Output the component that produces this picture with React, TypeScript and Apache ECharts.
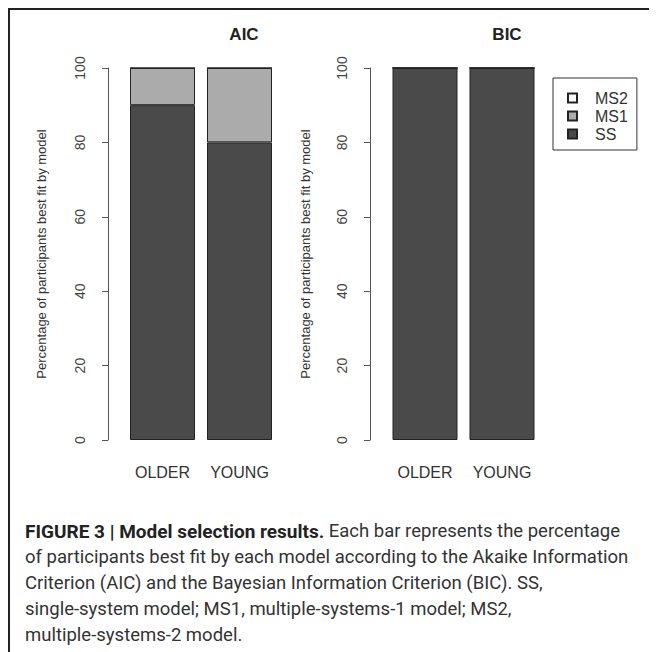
import React, { useEffect, useRef } from "react";
import * as echarts from "echarts";

const categories = ["OLDER", "YOUNG"];
const aicSS = [90, 80];
const aicMS1 = [10, 20];
const aicMS2 = [0, 0];
const bicSS = [100, 100];
const bicMS1 = [0, 0];
const bicMS2 = [0, 0];
const yTicks = { min: 0, max: 100, interval: 20 };
const yTitle = "Percentage of participants best fit by model";
const captionLines = [
  "{b|FIGURE 3 | Model selection results.} Each bar represents the percentage",
  "of participants best fit by each model according to the Akaike Information",
  "Criterion (AIC) and the Bayesian Information Criterion (BIC). SS,",
  "single-system model; MS1, multiple-systems-1 model; MS2,",
  "multiple-systems-2 model.",
];

const colors = { SS: "#4a4a4a", MS1: "#ababab", MS2: "#ffffff" };
const FONT = "Liberation Sans, Arial, sans-serif";
const CAP_FONT = "Roboto, sans-serif";

export default function App() {
  const ref = useRef<HTMLDivElement>(null);
  useEffect(() => {
    if (!ref.current) return;
    const chart = echarts.init(ref.current, undefined, { renderer: "svg" });
    const yAxisBase = (offset: number, gap: number, gridIndex: number) => ({
      type: "value",
      gridIndex,
      min: yTicks.min,
      max: yTicks.max,
      interval: yTicks.interval,
      offset,
      name: yTitle,
      nameLocation: "middle",
      nameGap: gap,
      nameTextStyle: { fontSize: 13, color: "#333", fontFamily: FONT },
      axisLine: { show: true, lineStyle: { color: "#555", width: 1 } },
      axisTick: { show: true, length: 6, lineStyle: { color: "#555" } },
      splitLine: { show: false },
      axisLabel: { rotate: 90, margin: 21, fontSize: 14, color: "#444", fontFamily: FONT },
    });
    const xAxisBase = (gridIndex: number) => ({
      type: "category",
      gridIndex,
      data: categories,
      axisLine: { show: false },
      axisTick: { show: false },
      axisLabel: { margin: 24, fontSize: 16, color: "#333", fontFamily: FONT },
    });
    const bar = (name: string, data: number[], idx: number, stack: string) => ({
      name,
      type: "bar",
      stack,
      xAxisIndex: idx,
      yAxisIndex: idx,
      barWidth: 65,
      data,
      itemStyle: { color: (colors as any)[name], borderColor: "#222", borderWidth: 1 },
    });
    chart.setOption({
      animation: false,
      backgroundColor: "#ffffff",
      grid: [
        { left: 116, top: 60, width: 154, height: 372 },
        { left: 378.5, top: 60, width: 154, height: 372 },
      ],
      xAxis: [xAxisBase(0), xAxisBase(1)],
      yAxis: [yAxisBase(16, 60, 0), yAxisBase(16.5, 58, 1)],
      legend: {
        data: ["MS2", "MS1", "SS"],
        orient: "vertical",
        left: 545,
        top: 70,
        borderColor: "#333",
        borderWidth: 1,
        borderRadius: 0,
        padding: [12, 9, 8, 14],
        itemWidth: 9,
        itemHeight: 9,
        itemGap: 2,
        icon: "rect",
        textStyle: { fontSize: 16, lineHeight: 16, color: "#333", fontFamily: FONT, padding: [0, 0, 0, 13] },
      },
      graphic: [
        { type: "line", shape: { x1: 0, y1: 1, x2: 649, y2: 1 }, style: { stroke: "#222", lineWidth: 2 } },
        { type: "line", shape: { x1: 1, y1: 0, x2: 1, y2: 644 }, style: { stroke: "#222", lineWidth: 2 } },
        {
          type: "text",
          x: 236,
          y: 26,
          style: { text: "AIC", align: "center", verticalAlign: "middle", fontSize: 17, fontWeight: "bold", fontFamily: FONT, fill: "#222" },
        },
        {
          type: "text",
          x: 499,
          y: 26,
          style: { text: "BIC", align: "center", verticalAlign: "middle", fontSize: 17, fontWeight: "bold", fontFamily: FONT, fill: "#222" },
        },
        ...captionLines.map((t, i) => ({
          type: "text",
          x: 17,
          y: 523 + i * 26,
          style: {
            text: t,
            align: "left",
            verticalAlign: "middle",
            fontSize: 18.5,
            fontFamily: CAP_FONT,
            fill: "#333",
            rich: { b: { fontWeight: "bold", fontSize: 19, fontFamily: CAP_FONT, fill: "#222" } },
          },
        })),
      ],
      series: [
        bar("SS", aicSS, 0, "a"),
        bar("MS1", aicMS1, 0, "a"),
        bar("MS2", aicMS2, 0, "a"),
        bar("SS", bicSS, 1, "b"),
        bar("MS1", bicMS1, 1, "b"),
        bar("MS2", bicMS2, 1, "b"),
      ],
    });
    return () => chart.dispose();
  }, []);
  return <div ref={ref} style={{ width: 649, height: 644 }} />;
}
